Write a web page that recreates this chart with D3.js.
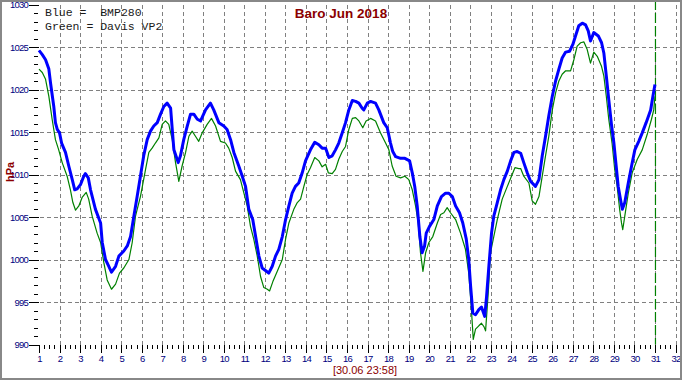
<!DOCTYPE html>
<html>
<head>
<meta charset="utf-8">
<script src="https://cdn.jsdelivr.net/npm/d3@7"></script>
<style>
  body { margin: 0; background: #fff; }
  svg { display: block; font-family: Arial, 'Liberation Sans', sans-serif; }
</style>
</head>
<body>
<div id="chart"></div>
<script>
// axis ticks
const dayTicks = d3.range(1, 33)
const hpaTicks = [990, 995, 1000, 1005, 1010, 1015, 1020, 1025, 1030]
const cursorDay = 31
const cursorLabel = '[30.06 23:58]'
const chartTitle = 'Baro Jun 2018'
const legendLines = ['Blue =  BMP280', 'Green = Davis VP2']

// [day of month, hPa]
const bmp280 = [
  [1.00, 1024.6], [1.16, 1024.1], [1.32, 1023.5], [1.48, 1022.4], [1.56, 1020.8],
  [1.72, 1018.0], [1.80, 1016.1], [1.89, 1015.3], [2.00, 1014.9], [2.10, 1013.7],
  [2.29, 1012.6], [2.45, 1011.0], [2.62, 1009.4], [2.74, 1008.2], [2.86, 1008.3],
  [3.02, 1008.8], [3.18, 1009.8], [3.26, 1010.1], [3.40, 1009.6], [3.51, 1008.2],
  [3.75, 1005.9], [4.00, 1004.3], [4.08, 1002.0], [4.24, 1000.0], [4.40, 999.2],
  [4.53, 998.5], [4.73, 999.2], [4.89, 1000.4], [5.13, 1001.0], [5.30, 1001.6],
  [5.46, 1002.7], [5.62, 1005.1], [5.78, 1007.4], [5.94, 1009.8], [6.10, 1012.2],
  [6.27, 1014.1], [6.43, 1015.1], [6.59, 1015.7], [6.76, 1016.1], [6.92, 1017.1],
  [7.08, 1018.0], [7.24, 1018.4], [7.41, 1017.8], [7.49, 1015.3], [7.57, 1012.9],
  [7.78, 1011.4], [7.89, 1012.2], [8.05, 1014.1], [8.22, 1015.7], [8.38, 1017.1],
  [8.54, 1017.1], [8.71, 1016.5], [8.87, 1016.3], [9.11, 1017.6], [9.35, 1018.4],
  [9.51, 1017.6], [9.76, 1016.1], [10.00, 1015.7], [10.16, 1015.3], [10.33, 1014.1],
  [10.49, 1012.6], [10.73, 1011.0], [10.90, 1009.8], [11.06, 1008.6], [11.22, 1005.9],
  [11.41, 1004.7], [11.55, 1002.7], [11.71, 1000.4], [11.87, 999.0], [12.03, 998.7],
  [12.19, 998.4], [12.36, 999.2], [12.52, 1000.4], [12.68, 1001.2], [12.85, 1002.7],
  [13.01, 1004.7], [13.17, 1006.3], [13.33, 1007.8], [13.49, 1008.6], [13.65, 1009.0],
  [13.82, 1010.2], [13.98, 1011.6], [14.22, 1012.9], [14.43, 1013.8], [14.63, 1013.5],
  [14.79, 1013.1], [14.96, 1013.1], [15.12, 1012.0], [15.28, 1012.2], [15.44, 1012.9],
  [15.60, 1013.7], [15.77, 1014.9], [15.93, 1016.1], [16.09, 1017.6], [16.26, 1018.7],
  [16.42, 1018.6], [16.58, 1018.4], [16.74, 1017.8], [16.82, 1017.6], [16.99, 1018.4],
  [17.15, 1018.6], [17.39, 1018.4], [17.55, 1017.6], [17.79, 1016.1], [17.96, 1015.5],
  [18.12, 1013.7], [18.23, 1012.7], [18.37, 1012.1], [18.61, 1011.9], [18.82, 1011.9],
  [19.05, 1011.6], [19.18, 1010.2], [19.30, 1008.6], [19.42, 1006.3], [19.55, 1002.7],
  [19.66, 1000.8], [19.78, 1001.6], [19.86, 1003.1], [20.02, 1003.9], [20.23, 1004.7],
  [20.40, 1006.3], [20.60, 1007.4], [20.80, 1007.8], [20.96, 1007.8], [21.13, 1007.4],
  [21.29, 1006.3], [21.48, 1005.5], [21.64, 1004.3], [21.81, 1002.4], [21.93, 1000.0],
  [22.02, 996.9], [22.13, 993.7], [22.26, 993.5], [22.42, 994.1], [22.55, 994.4],
  [22.71, 993.3], [22.80, 995.7], [22.91, 999.2], [23.04, 1003.1], [23.15, 1005.1],
  [23.32, 1006.7], [23.48, 1008.2], [23.64, 1009.4], [23.81, 1010.4], [23.97, 1011.6],
  [24.13, 1012.6], [24.29, 1012.7], [24.46, 1012.5], [24.61, 1011.4], [24.78, 1010.2],
  [24.94, 1009.2], [25.18, 1008.6], [25.35, 1009.4], [25.51, 1012.2], [25.67, 1014.5],
  [25.83, 1016.9], [26.00, 1019.2], [26.16, 1021.0], [26.32, 1022.4], [26.48, 1023.7],
  [26.65, 1024.4], [26.84, 1024.5], [27.00, 1025.3], [27.13, 1026.3], [27.29, 1027.5],
  [27.46, 1027.8], [27.62, 1027.6], [27.75, 1026.9], [27.86, 1025.7], [28.02, 1026.7],
  [28.24, 1026.3], [28.40, 1025.5], [28.51, 1024.3], [28.63, 1021.6], [28.75, 1018.8],
  [28.89, 1015.7], [29.00, 1013.7], [29.11, 1011.0], [29.21, 1008.6], [29.32, 1007.1],
  [29.41, 1005.9], [29.53, 1006.7], [29.70, 1009.0], [29.86, 1011.0], [30.02, 1012.9],
  [30.21, 1013.9], [30.38, 1014.9], [30.57, 1016.1], [30.79, 1017.6], [30.90, 1019.2],
  [31.00, 1020.6]
]

const davisVp2 = [
  [1.00, 1022.4], [1.16, 1022.0], [1.32, 1021.2], [1.48, 1019.2], [1.64, 1016.5],
  [1.80, 1014.1], [1.96, 1012.9], [2.13, 1011.4], [2.37, 1009.8], [2.53, 1008.2],
  [2.65, 1006.7], [2.78, 1005.8], [2.94, 1006.3], [3.10, 1007.3], [3.30, 1007.9],
  [3.42, 1007.1], [3.59, 1005.1], [3.83, 1003.1], [4.00, 1002.0], [4.16, 999.6],
  [4.32, 997.6], [4.53, 996.5], [4.73, 997.1], [4.92, 998.4], [5.13, 999.0],
  [5.38, 1000.0], [5.54, 1002.0], [5.70, 1005.1], [5.94, 1007.4], [6.19, 1010.6],
  [6.35, 1012.6], [6.51, 1013.1], [6.67, 1013.7], [6.84, 1014.3], [7.00, 1015.9],
  [7.16, 1016.3], [7.32, 1015.9], [7.49, 1014.1], [7.65, 1011.4], [7.81, 1009.2],
  [7.97, 1011.0], [8.14, 1012.6], [8.30, 1014.5], [8.46, 1015.1], [8.62, 1014.5],
  [8.78, 1013.9], [8.95, 1014.9], [9.19, 1015.9], [9.40, 1016.6], [9.60, 1015.7],
  [9.84, 1013.9], [10.08, 1013.7], [10.24, 1013.1], [10.41, 1012.0], [10.57, 1010.4],
  [10.81, 1009.4], [10.98, 1007.8], [11.14, 1006.3], [11.30, 1003.9], [11.46, 1002.4],
  [11.63, 1000.4], [11.79, 998.0], [11.95, 996.7], [12.12, 996.5], [12.23, 996.3],
  [12.39, 997.4], [12.60, 998.6], [12.85, 1000.0], [13.01, 1002.4], [13.17, 1004.3],
  [13.41, 1005.9], [13.58, 1006.7], [13.74, 1007.1], [13.90, 1008.6], [14.06, 1010.0],
  [14.22, 1010.8], [14.43, 1012.0], [14.63, 1011.6], [14.79, 1010.9], [14.96, 1011.2],
  [15.09, 1010.2], [15.28, 1010.1], [15.44, 1010.6], [15.60, 1011.8], [15.77, 1012.7],
  [15.93, 1013.3], [16.09, 1015.3], [16.26, 1016.6], [16.42, 1016.7], [16.58, 1016.3],
  [16.77, 1015.5], [16.93, 1016.3], [17.15, 1016.6], [17.39, 1016.3], [17.63, 1014.9],
  [17.88, 1013.7], [18.04, 1012.9], [18.20, 1011.0], [18.39, 1009.8], [18.61, 1009.6],
  [18.82, 1009.8], [19.01, 1009.4], [19.18, 1008.2], [19.34, 1006.3], [19.47, 1004.3],
  [19.58, 1000.8], [19.70, 998.6], [19.83, 1000.8], [19.99, 1002.0], [20.18, 1002.7],
  [20.40, 1004.3], [20.56, 1005.3], [20.72, 1005.5], [20.88, 1006.1], [21.04, 1005.5],
  [21.29, 1004.7], [21.53, 1003.1], [21.77, 1001.2], [21.93, 998.4], [22.05, 994.5],
  [22.15, 990.6], [22.26, 991.8], [22.42, 992.2], [22.55, 992.5], [22.67, 992.1],
  [22.75, 991.6], [22.88, 996.1], [22.99, 1000.8], [23.15, 1002.7], [23.32, 1004.7],
  [23.56, 1007.1], [23.81, 1008.6], [24.01, 1009.8], [24.18, 1010.8], [24.37, 1010.7],
  [24.46, 1010.7], [24.61, 1009.8], [24.86, 1009.0], [25.02, 1006.9], [25.18, 1006.5],
  [25.35, 1007.4], [25.51, 1009.8], [25.67, 1012.2], [25.83, 1014.5], [26.00, 1017.6],
  [26.16, 1019.6], [26.32, 1021.0], [26.48, 1021.8], [26.65, 1022.2], [26.89, 1022.2],
  [27.05, 1023.5], [27.21, 1025.1], [27.38, 1025.5], [27.54, 1025.6], [27.70, 1024.7],
  [27.86, 1023.1], [28.02, 1024.4], [28.19, 1023.9], [28.40, 1022.7], [28.51, 1021.6],
  [28.63, 1019.2], [28.75, 1016.5], [28.91, 1013.7], [29.04, 1010.6], [29.16, 1008.6],
  [29.28, 1005.9], [29.37, 1004.3], [29.43, 1003.5], [29.53, 1005.1], [29.70, 1007.8],
  [29.89, 1010.2], [30.14, 1011.8], [30.38, 1012.9], [30.62, 1014.7], [30.83, 1016.5],
  [30.94, 1017.6], [31.00, 1019.2]
]

const width = 682
const height = 380

const x = d3.scaleLinear().domain([1, 32]).range([39, 675.5])
const y = d3.scaleLinear().domain([990, 1030]).range([344.5, 4.5])

const svg = d3.select('#chart')
  .append('svg')
  .attr('width', width)
  .attr('height', height)

svg.append('rect')
  .attr('width', width)
  .attr('height', height)
  .attr('fill', '#fff')

// dashed grid
const grid = svg.append('g')
  .attr('stroke', '#808080')
  .attr('stroke-dasharray', '4,3')
  .attr('shape-rendering', 'crispEdges')

grid.selectAll('.vgrid')
  .data(dayTicks.filter(d => d > 1))
  .join('line')
  .classed('vgrid', true)
  .attr('x1', d => x(d) + 0.5)
  .attr('x2', d => x(d) + 0.5)
  .attr('y1', y(990))
  .attr('y2', 0)

grid.selectAll('.hgrid')
  .data(hpaTicks.filter(d => d > 990 && d < 1030))
  .join('line')
  .classed('hgrid', true)
  .attr('x1', x(1) + 1)
  .attr('x2', width)
  .attr('y1', d => y(d) + 0.5)
  .attr('y2', d => y(d) + 0.5)

const styleLabels = g => g.selectAll('text')
  .attr('fill', '#000080')
  .attr('font-size', 9.5)
  .attr('letter-spacing', -0.8)
  .attr('font-family', 'Arial, Liberation Sans, sans-serif')

// y axis, major + minor ticks, no domain line
const yAxis = d3.axisLeft(y)
  .tickValues(hpaTicks)
  .tickSize(10)
  .tickPadding(1)
  .tickFormat(d3.format('d'))
const yMinor = d3.axisLeft(y)
  .tickValues(d3.range(990, 1031).filter(d => d % 5 !== 0))
  .tickSize(4)
  .tickFormat('')

svg.append('g')
  .attr('transform', `translate(${x(1) - 1},0)`)
  .call(yMinor)
  .call(g => g.select('.domain').remove())

svg.append('g')
  .classed('y-axis', true)
  .attr('transform', `translate(${x(1)},0)`)
  .call(yAxis)
  .call(g => g.select('.domain').remove())
  .call(styleLabels)

// x axis
const xAxis = d3.axisBottom(x)
  .tickValues(dayTicks)
  .tickSize(8)
  .tickPadding(3)
  .tickFormat(d3.format('d'))
const xMinor = d3.axisBottom(x)
  .tickValues(d3.range(1, 32.01, 0.25).filter(d => d % 1 !== 0))
  .tickSize(4)
  .tickFormat('')

svg.append('g')
  .attr('transform', `translate(0,${y(990)})`)
  .call(xMinor)
  .call(g => g.select('.domain').remove())

svg.append('g')
  .classed('x-axis', true)
  .attr('transform', `translate(0,${y(990)})`)
  .call(xAxis)
  .call(g => g.select('.domain').remove())
  .call(styleLabels)

svg.selectAll('.tick line')
  .attr('stroke', '#000')
  .attr('shape-rendering', 'crispEdges')

// cursor line
svg.append('line')
  .attr('x1', x(cursorDay) + 0.5)
  .attr('x2', x(cursorDay) + 0.5)
  .attr('y1', 0)
  .attr('y2', y(990))
  .attr('stroke', '#008000')
  .attr('stroke-width', 1.2)
  .attr('stroke-dasharray', '10,3')

// series
const line = d3.line()
  .x(d => x(d[0]))
  .y(d => y(d[1]))

svg.append('path')
  .datum(davisVp2)
  .attr('d', line)
  .attr('fill', 'none')
  .attr('stroke', '#008000')
  .attr('stroke-width', 1.2)
  .attr('stroke-linejoin', 'round')

svg.append('path')
  .datum(bmp280)
  .attr('d', line)
  .attr('fill', 'none')
  .attr('stroke', '#0000ff')
  .attr('stroke-width', 3)
  .attr('stroke-linejoin', 'round')

// texts
svg.append('text')
  .attr('x', 341)
  .attr('y', 18)
  .attr('text-anchor', 'middle')
  .attr('font-size', 13.5)
  .attr('font-weight', 'bold')
  .attr('fill', '#8b0000')
  .text(chartTitle)

svg.append('g')
  .selectAll('text')
  .data(legendLines)
  .join('text')
  .attr('x', 45)
  .attr('y', (d, i) => 16 + i * 13.5)
  .attr('font-family', "'Liberation Mono', 'Courier New', monospace")
  .attr('font-size', 11.5)
  .attr('fill', '#1a1a1a')
  .style('white-space', 'pre')
  .text(d => d)

svg.append('text')
  .attr('transform', 'translate(14,172) rotate(-90)')
  .attr('text-anchor', 'middle')
  .attr('font-size', 11)
  .attr('font-weight', 'bold')
  .attr('fill', '#8b0000')
  .text('hPa')

svg.append('text')
  .attr('x', 365)
  .attr('y', 374)
  .attr('text-anchor', 'middle')
  .attr('font-size', 11)
  .attr('fill', '#8b0000')
  .text(cursorLabel)

// window frame
svg.append('rect')
  .attr('x', 1)
  .attr('y', 1)
  .attr('width', width - 2)
  .attr('height', height - 2)
  .attr('fill', 'none')
  .attr('stroke', '#888')
  .attr('stroke-width', 2)
</script>
</body>
</html>
